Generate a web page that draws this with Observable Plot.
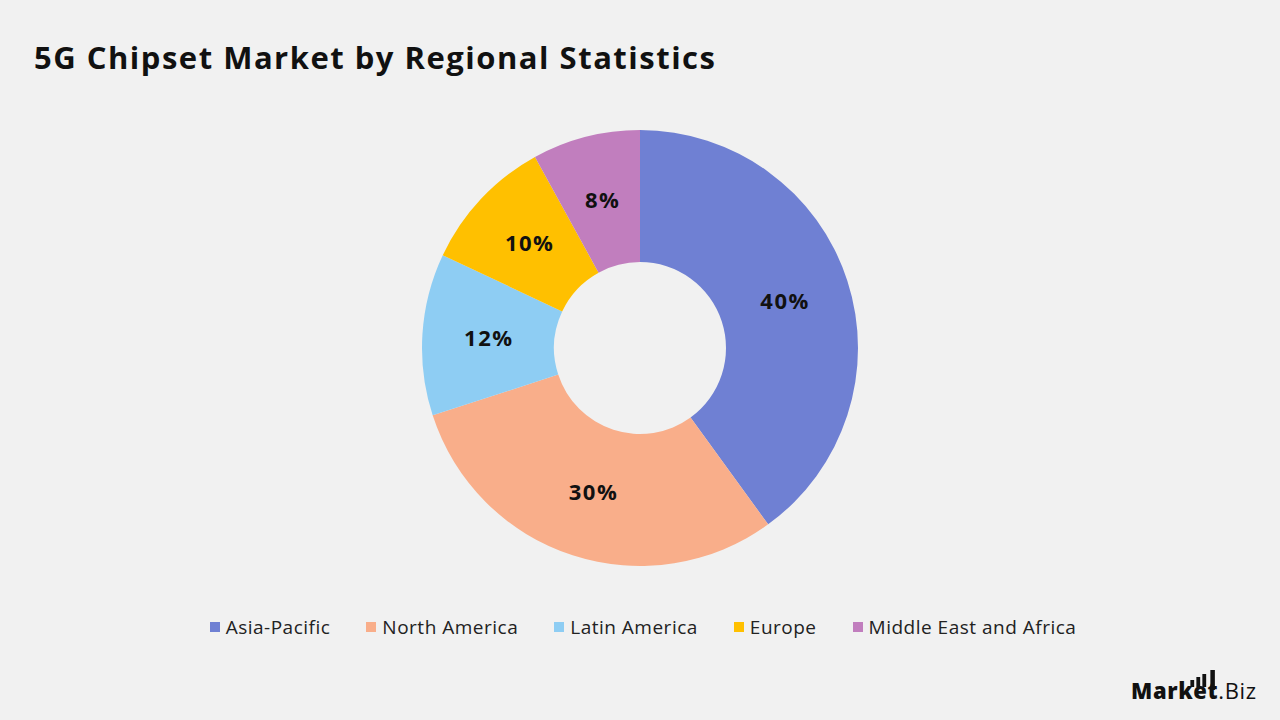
<!DOCTYPE html>
<html><head><meta charset="utf-8">
<script src="https://cdn.jsdelivr.net/npm/d3@7"></script>
<script src="https://cdn.jsdelivr.net/npm/@observablehq/plot@0.6"></script>
<style>
html,body{margin:0;padding:0;background:#f1f1f1;}
#wrap{position:relative;width:1280px;height:720px;background:#f1f1f1;overflow:hidden;font-family:"Open Sans",Lato,sans-serif;}
#title{position:absolute;left:34px;top:36px;font-size:31px;font-weight:700;color:#111;white-space:nowrap;letter-spacing:1.5px;}
#chart{position:absolute;left:0;top:0;}
#legend{position:absolute;left:0;width:1286px;top:614px;display:flex;justify-content:center;gap:36px;font-size:19px;color:#222;letter-spacing:0.5px;}
.item{display:flex;align-items:center;gap:6px;}
.sw{width:10px;height:10px;display:inline-block;}
#logo{position:absolute;left:1120px;top:660px;}
</style></head>
<body><div id="wrap">
<div id="title">5G Chipset Market by Regional Statistics</div>
<div id="chart"></div>
<div id="legend"></div>
<svg id="logo" width="150" height="50" viewBox="0 0 150 50">
  <text id="logotext" x="11" y="39" font-family="'Open Sans',sans-serif" font-size="22" fill="#111" textLength="125" lengthAdjust="spacing"><tspan font-weight="800">Market</tspan><tspan font-weight="400">.Biz</tspan></text>
</svg>
</div>
<script>
const regions = ["Asia-Pacific", "North America", "Latin America", "Europe", "Middle East and Africa"];
const shares = [40, 30, 12, 10, 8];
const colors = ["#6F80D3", "#F9AE8A", "#8ECDF3", "#FFC000", "#C17EBE"];
const labels = ["40%", "30%", "12%", "10%", "8%"];

const data = regions.map((r, i) => ({region: r, value: shares[i], color: colors[i], label: labels[i]}));
const cx = 640, cy = 348, rOuter = 218, rInner = 86;
const arcs = d3.pie().sort(null).value(d => d.value)(data);
const rLab = (rOuter + rInner) / 2;
const labelData = arcs.map(a => {
  const m = (a.startAngle + a.endAngle) / 2;
  return {label: a.data.label, x: cx + rLab * Math.sin(m), y: cy - rLab * Math.cos(m)};
});

function donut(index, scales) {
  const g = d3.create("svg:g");
  const X = scales.x(cx), Y = scales.y(cy);
  const k = scales.x(1) - scales.x(0);
  const arcGen = d3.arc().innerRadius(rInner * k).outerRadius(rOuter * k);
  g.selectAll("path").data(arcs).join("path")
    .attr("transform", `translate(${X},${Y})`)
    .attr("d", arcGen)
    .attr("fill", d => d.data.color);
  return g.node();
}

const plot = Plot.plot({
  width: 1280, height: 720,
  margin: 0,
  style: {background: "transparent", overflow: "visible"},
  x: {domain: [0, 1280], range: [0, 1280], axis: null},
  y: {domain: [0, 720], range: [0, 720], axis: null},
  marks: [
    donut,
    Plot.text(labelData, {x: "x", y: "y", text: "label", fontSize: 22, fontWeight: 700, fill: "#111", fontFamily: "'Open Sans',sans-serif"})
  ]
});
plot.querySelectorAll("text").forEach(t => t.style.letterSpacing = "1.5px");
document.getElementById("chart").appendChild(plot);

const legend = d3.select("#legend");
data.forEach(d => {
  const it = legend.append("div").attr("class", "item");
  it.append("span").attr("class", "sw").style("background", d.color);
  it.append("span").text(d.region);
});

// logo bars placed relative to the "t" glyph
const lt = document.getElementById("logotext");
const svgLogo = d3.select("#logo");
try {
  const tStart = lt.getStartPositionOfChar(5).x;
  const tEnd = lt.getEndPositionOfChar(5).x;
  const stemX = tStart + (tEnd - tStart) * 0.28;
  const bars = [[stemX - 20, 20, 7], [stemX - 14, 17, 10], [stemX - 8, 14, 13]];
  bars.forEach(([x, y, h]) => svgLogo.append("rect").attr("x", x).attr("y", y).attr("width", 3.8).attr("height", h).attr("fill", "#111"));
  svgLogo.append("rect").attr("x", stemX).attr("y", 10).attr("width", 4.5).attr("height", 20).attr("fill", "#111");
} catch (e) {}
</script>
</body></html>
